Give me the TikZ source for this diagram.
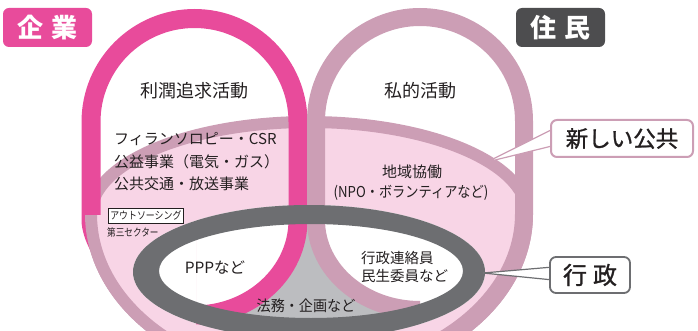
\documentclass[tikz,border=0pt]{standalone}
\usepackage{fontspec}
\setmainfont{Noto Sans CJK JP}
\newfontfamily\jpmed{Noto Sans CJK JP}[FakeBold=1.1]
\usetikzlibrary{calc}
\definecolor{pinkc}{HTML}{E84B9B}
\definecolor{mauvec}{HTML}{CC9EB5}
\definecolor{palepinkc}{HTML}{F8D5E6}
\definecolor{ringgray}{HTML}{6D6E71}
\definecolor{fillgray}{HTML}{BCBDC0}
\definecolor{boxdark}{HTML}{4D4D4F}
\definecolor{textc}{HTML}{231F20}
\pgfdeclarelayer{front}
\pgfsetlayers{main,front}
\tikzset{
  bigellpath/.style={insert path={(91,214) arc[start angle=180,end angle=360,x radius=218,y radius=92] arc[start angle=0,end angle=180,x radius=218,y radius=164] -- cycle}},
  pinkarchpath/.style={insert path={(91,220) -- (91,122) arc[start angle=180,end angle=360,radius=103.5] -- (298,220) arc[start angle=0,end angle=90,x radius=103.5,y radius=95] .. controls (140,315) and (91,250) .. (91,220) -- cycle}},
  mauvefillpath/.style={insert path={(316,220) -- (316,100) -- (600,100) -- (600,345) -- (420,345) -- (420,310) arc[start angle=90,end angle=180,x radius=104,y radius=90] -- cycle}},
  mauveringpath/.style={insert path={(420,310) arc[start angle=90,end angle=180,x radius=104,y radius=90] -- (316,121) arc[start angle=180,end angle=360,radius=104] -- (524,214) arc[start angle=0,end angle=55,x radius=215,y radius=161]}},
  grayouterpath/.style={insert path={(309,272) ellipse [x radius=176,y radius=67]}},
  lbl/.style={text=textc, inner sep=0pt},
  tagbox/.style={rounded corners=6pt, minimum width=89pt, minimum height=39pt, inner sep=0pt, text=white, font=\fontsize{26}{26}\selectfont\bfseries},
  callbox/.style={rounded corners=6pt, fill=white, inner sep=0pt, text=textc},
}
\begin{document}
\begin{tikzpicture}[x=1pt,y=-1pt]
\useasboundingbox (0,0) rectangle (698,331);
\clip (0,0) rectangle (698,331);
% big ellipse fill
\fill[palepinkc, bigellpath];
% administration ellipse fill
\fill[fillgray, grayouterpath];
\begin{scope}
  \path[clip, grayouterpath];
  \fill[white, pinkarchpath];
  \fill[white, mauvefillpath];
\end{scope}
% big ellipse ring
\draw[mauvec, line width=12pt, bigellpath];
% arches
\draw[pinkc, line width=19pt, pinkarchpath];
\draw[mauvec, line width=18pt, mauveringpath];
% lower-left patch where the big ellipse lies above the pink arch
\begin{scope}
  \clip (0,215) rectangle (196,331);
  \fill[palepinkc, bigellpath];
  \fill[white, grayouterpath];
  \draw[mauvec, line width=12pt, bigellpath];
\end{scope}
% administration ring
\fill[ringgray, even odd rule] (309,272) ellipse [x radius=176,y radius=67] (311,271) ellipse [x radius=152,y radius=47];

% labels
\node[lbl, font=\fontsize{18}{18}\selectfont] (rijun) at (194,91) {利潤追求活動};
\node[lbl, font=\fontsize{18}{18}\selectfont] (shiteki) at (420,91) {私的活動};
\node[lbl, anchor=west, font=\fontsize{15}{15}\selectfont] (philA) at (114,139) {フィランソロピー・CSR};
\node[lbl, anchor=west, font=\fontsize{15}{15}\selectfont] (philB) at (114,162) {公益事業（電気・ガス）};
\node[lbl, anchor=west, font=\fontsize{15}{15}\selectfont] (philC) at (114,184) {公共交通・放送事業};
\node[lbl, draw=textc, line width=0.8pt, fill=white, anchor=north west, minimum width=75pt, minimum height=15pt, font=\fontsize{10.5}{10.5}\selectfont] (outs) at (108,208) {\scalebox{0.85}[1]{アウトソーシング}};
\node[lbl, anchor=west, font=\fontsize{10.5}{10.5}\selectfont] (daisan) at (107,232) {\scalebox{0.82}[1]{第三セクター}};
\node[lbl, font=\fontsize{15}{15}\selectfont] (chiiki) at (412,172) {地域協働};
\node[lbl, font=\fontsize{15}{15}\selectfont] (npo) at (411,193) {\scalebox{0.88}[1]{(NPO・ボランティアなど)}};
\node[lbl, anchor=west, font=\fontsize{14.5}{14.5}\selectfont] (renraku) at (361,258) {行政連絡員};
\node[lbl, anchor=west, font=\fontsize{14.5}{14.5}\selectfont] (minsei) at (361,276) {民生委員など};
\node[lbl, font=\fontsize{15.5}{15.5}\selectfont] (ppp) at (215,268) {PPPなど};
\node[lbl, font=\fontsize{15}{15}\selectfont] (homu) at (306,306) {\scalebox{0.94}[1]{法務・企画など}};

% tags and callouts
\begin{pgfonlayer}{front}
\node[tagbox, fill=pinkc] (kigyo) at (47.5,27.5) {企\hspace{8pt}業};
\node[tagbox, fill=boxdark] (jumin) at (560.5,27.5) {住\hspace{8pt}民};
\node[callbox, draw=mauvec, line width=2pt, minimum width=142pt, minimum height=37pt, font=\fontsize{22.5}{22.5}\selectfont\jpmed] (kyo) at (622,138.5) {新しい公共};
\node[callbox, draw=ringgray, line width=1.8pt, minimum width=80pt, minimum height=36pt, font=\fontsize{24}{24}\selectfont\jpmed] (gyo) at (590,275) {行\hspace{6pt}政};
\end{pgfonlayer}
\coordinate (np) at (487,162);
\coordinate (gp) at (483,273);
\filldraw[fill=white, draw=mauvec, line width=1.2pt, line join=miter] ($(kyo.west)+(4,-10)$) -- (np) -- ($(kyo.west)+(4,7)$);
\filldraw[fill=white, draw=ringgray, line width=1.2pt, line join=miter] ($(gyo.west)+(4,-8)$) -- (gp) -- ($(gyo.west)+(4,5)$);
\end{tikzpicture}
\end{document}
